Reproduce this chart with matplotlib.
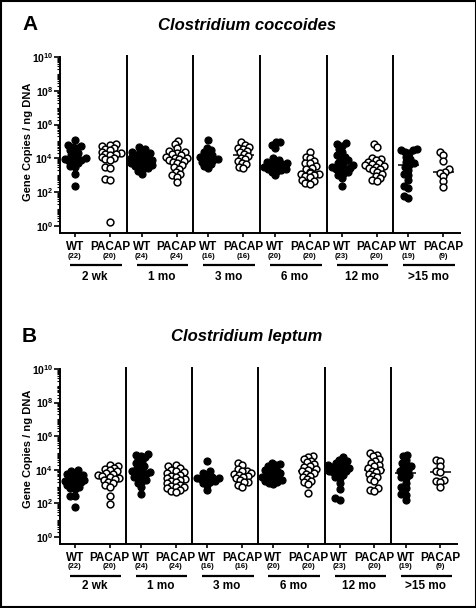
import numpy as np
import matplotlib.pyplot as plt
from matplotlib.ticker import FixedLocator, NullFormatter
from matplotlib.transforms import blended_transform_factory
from matplotlib.patches import Rectangle

plt.rcParams['font.family'] = ['Liberation Sans', 'DejaVu Sans']
plt.rcParams['font.weight'] = 'bold'
plt.rcParams['mathtext.fontset'] = 'custom'
plt.rcParams['mathtext.rm'] = 'Liberation Sans:bold'
plt.rcParams['mathtext.bf'] = 'Liberation Sans:bold'

# categories
ages = ['2 wk', '1 mo', '3 mo', '6 mo', '12 mo', '>15 mo']
genotypes = ['WT', 'PACAP']
n_counts = [22, 20, 24, 24, 16, 16, 20, 20, 23, 20, 19, 9]

# log10(gene copies / ng DNA) - Clostridium coccoides
cocc_wt_2wk = [5.1, 4.8, 4.75, 4.7, 4.6, 4.5, 4.4, 4.3, 4.2, 4.1, 4.05, 4.0, 4.0, 3.95, 3.9,
               3.85, 3.8, 3.7, 3.55, 3.5, 3.1, 2.35]
cocc_pacap_2wk = [4.85, 4.8, 4.75, 4.6, 4.55, 4.5, 4.4, 4.3, 4.25, 4.25, 4.2, 4.1, 4.0, 3.95,
                  3.9, 3.5, 3.45, 2.8, 2.75, 0.25]
cocc_wt_1mo = [4.7, 4.55, 4.45, 4.35, 4.3, 4.25, 4.2, 4.1, 4.05, 4.0, 3.95, 3.9, 3.85, 3.8,
               3.75, 3.7, 3.65, 3.6, 3.55, 3.5, 3.45, 3.35, 3.25, 3.1]
cocc_pacap_1mo = [5.05, 4.85, 4.6, 4.45, 4.35, 4.3, 4.25, 4.2, 4.1, 4.05, 4.0, 3.95, 3.9, 3.85,
                  3.8, 3.7, 3.6, 3.5, 3.4, 3.2, 3.1, 3.0, 2.9, 2.6]
cocc_wt_3mo = [5.1, 4.6, 4.5, 4.4, 4.3, 4.2, 4.1, 4.05, 4.0, 3.95, 3.9, 3.8, 3.75, 3.65, 3.55, 3.45]
cocc_pacap_3mo = [4.95, 4.8, 4.7, 4.6, 4.55, 4.45, 4.35, 4.25, 4.15, 4.05, 3.95, 3.85, 3.75,
                  3.65, 3.5, 3.45]
cocc_wt_6mo = [4.95, 4.95, 4.8, 4.6, 4.0, 3.9, 3.8, 3.75, 3.7, 3.65, 3.6, 3.55, 3.5, 3.45, 3.4,
               3.35, 3.3, 3.25, 3.2, 3.0]
cocc_pacap_6mo = [4.4, 4.1, 4.0, 3.85, 3.75, 3.7, 3.55, 3.45, 3.35, 3.2, 3.15, 3.1, 3.05, 3.0,
                  2.95, 2.9, 2.75, 2.65, 2.55, 2.5]
cocc_wt_12mo = [4.9, 4.85, 4.75, 4.55, 4.35, 4.2, 4.1, 4.0, 3.9, 3.8, 3.7, 3.6, 3.55, 3.5, 3.45,
                3.4, 3.35, 3.3, 3.2, 3.1, 3.0, 2.85, 2.35]
cocc_pacap_12mo = [4.85, 4.65, 4.0, 3.95, 3.9, 3.8, 3.7, 3.65, 3.6, 3.55, 3.5, 3.45, 3.4, 3.3,
                   3.2, 3.1, 2.95, 2.85, 2.75, 2.65]
cocc_wt_15mo = [4.55, 4.5, 4.5, 4.4, 4.3, 4.1, 3.95, 3.8, 3.7, 3.6, 3.5, 3.3, 3.1, 3.0, 2.7,
                2.35, 2.25, 1.75, 1.65]
cocc_pacap_15mo = [4.4, 4.2, 3.85, 3.35, 3.2, 3.15, 2.95, 2.65, 2.3]

# Clostridium leptum
lept_wt_2wk = [4.0, 3.9, 3.8, 3.75, 3.7, 3.6, 3.55, 3.5, 3.45, 3.4, 3.4, 3.35, 3.3, 3.25, 3.2,
               3.1, 3.0, 2.9, 2.85, 2.45, 2.45, 1.8]
lept_pacap_2wk = [4.3, 4.2, 4.1, 4.05, 4.0, 3.9, 3.8, 3.75, 3.7, 3.65, 3.6, 3.5, 3.45, 3.4, 3.3,
                  3.2, 3.1, 3.0, 2.45, 1.95]
lept_wt_1mo = [4.95, 4.9, 4.85, 4.75, 4.65, 4.55, 4.4, 4.3, 4.2, 4.1, 4.0, 3.95, 3.9, 3.85, 3.8,
               3.75, 3.7, 3.6, 3.5, 3.4, 3.35, 3.2, 3.0, 2.55]
lept_pacap_1mo = [4.3, 4.2, 4.1, 4.0, 3.95, 3.85, 3.8, 3.7, 3.65, 3.6, 3.5, 3.45, 3.4, 3.35, 3.3,
                  3.2, 3.1, 3.05, 3.0, 2.95, 2.9, 2.8, 2.75, 2.7]
lept_wt_3mo = [4.5, 3.9, 3.8, 3.7, 3.65, 3.6, 3.55, 3.5, 3.5, 3.45, 3.4, 3.35, 3.3, 3.2, 3.1, 2.8]
lept_pacap_3mo = [4.4, 4.3, 4.05, 3.95, 3.9, 3.8, 3.75, 3.7, 3.65, 3.6, 3.5, 3.4, 3.3, 3.25,
                  3.1, 3.0]
lept_wt_6mo = [4.4, 4.35, 4.3, 4.2, 4.1, 4.0, 3.95, 3.9, 3.8, 3.75, 3.7, 3.6, 3.55, 3.5, 3.45,
               3.4, 3.35, 3.3, 3.2, 3.15]
lept_pacap_6mo = [4.8, 4.75, 4.65, 4.55, 4.45, 4.35, 4.25, 4.15, 4.05, 4.0, 3.9, 3.8, 3.75, 3.65,
                  3.55, 3.45, 3.35, 3.25, 3.15, 2.6]
lept_wt_12mo = [4.75, 4.6, 4.5, 4.45, 4.4, 4.3, 4.25, 4.2, 4.15, 4.1, 4.05, 4.0, 3.95, 3.9, 3.85,
                3.8, 3.7, 3.6, 3.5, 3.2, 2.85, 2.3, 2.2]
lept_pacap_12mo = [5.0, 4.9, 4.8, 4.65, 4.55, 4.4, 4.3, 4.2, 4.1, 4.0, 3.95, 3.85, 3.75, 3.65,
                   3.55, 3.45, 3.35, 2.9, 2.8, 2.75]
lept_wt_15mo = [4.9, 4.8, 4.6, 4.4, 4.3, 4.2, 4.1, 4.0, 3.9, 3.8, 3.7, 3.6, 3.5, 3.2, 3.0, 2.9,
                2.55, 2.5, 2.2]
lept_pacap_15mo = [4.6, 4.55, 4.2, 3.9, 3.85, 3.4, 3.35, 3.25, 2.95]

coccoides = [cocc_wt_2wk, cocc_pacap_2wk, cocc_wt_1mo, cocc_pacap_1mo, cocc_wt_3mo, cocc_pacap_3mo,
             cocc_wt_6mo, cocc_pacap_6mo, cocc_wt_12mo, cocc_pacap_12mo, cocc_wt_15mo, cocc_pacap_15mo]
leptum = [lept_wt_2wk, lept_pacap_2wk, lept_wt_1mo, lept_pacap_1mo, lept_wt_3mo, lept_pacap_3mo,
          lept_wt_6mo, lept_pacap_6mo, lept_wt_12mo, lept_pacap_12mo, lept_wt_15mo, lept_pacap_15mo]

W, H = 477, 608
fig = plt.figure(figsize=(W / 100, H / 100), dpi=100)


def swarm(vals, ppd, d, cap):
    # simple beeswarm in pixel space, returns x offsets in pixels
    order = np.argsort(vals)
    placed = []
    xs = np.zeros(len(vals))
    for i in order:
        y = vals[i] * ppd
        cands = [0.0]
        for px, py in placed:
            dy = abs(py - y)
            if dy < d:
                dx = np.sqrt(d * d - dy * dy)
                cands += [px - dx, px + dx]
        cands = [c for c in cands if abs(c) <= cap] or [0.0]
        cands.sort(key=abs)
        best = cands[0]
        for c in cands:
            if all((c - px) ** 2 + (y - py) ** 2 >= d * d - 1e-6 for px, py in placed):
                best = c
                break
        xs[i] = best
        placed.append((best, y))
    return xs


def panel(groups, left, right, top, bottom, ylo, yhi, letter, title, ylab_y, rows):
    ax = fig.add_axes([left / W, 1 - bottom / H, (right - left) / W, (bottom - top) / H])
    ax.set_yscale('log')
    ax.set_ylim(10 ** ylo, 10 ** yhi)
    ax.set_xlim(0, 12)
    ppd = (bottom - top) / (yhi - ylo)
    ppx = (right - left) / 12.0

    for s in ['top', 'right']:
        ax.spines[s].set_visible(False)
    for s in ['left', 'bottom']:
        ax.spines[s].set_linewidth(1.4)
    ax.spines['left'].set_bounds(10 ** ylo, 1e10)

    # y ticks
    ax.yaxis.set_major_locator(FixedLocator([10.0 ** k for k in range(0, 11, 2)]))
    ax.set_yticklabels([r'$10^{%d}$' % k for k in range(0, 11, 2)], fontsize=7.5)
    minor = [m * 10.0 ** k for k in range(0, 10) for m in range(2, 10)] + [10.0 ** k for k in range(1, 11, 2)]
    ax.yaxis.set_minor_locator(FixedLocator(minor))
    ax.yaxis.set_minor_formatter(NullFormatter())
    ax.tick_params(axis='y', which='major', length=4, width=1.2, pad=1)
    ax.tick_params(axis='y', which='minor', length=2, width=0.8)

    # x positions of the genotype columns
    xpos = []
    for i in range(6):
        xpos += [2 * i + 0.45, 2 * i + 1.5]
    ax.set_xticks(xpos)
    ax.set_xticklabels([])
    ax.tick_params(axis='x', length=3, width=1.2)

    # separators between ages
    for i in range(1, 6):
        ax.axvline(2 * i, ymin=0, ymax=1, color='black', lw=1.4)

    for j, vals in enumerate(groups):
        vals = np.array(vals)
        off = swarm(vals, ppd, 4.6, 12) / ppx
        med = np.median(vals)
        ax.hlines(10 ** med, xpos[j] - 0.32, xpos[j] + 0.32, color='black', lw=1.1, zorder=2)
        if j % 2 == 0:
            ax.scatter(xpos[j] + off, 10 ** vals, s=26, color='black', edgecolors='black',
                       linewidths=0.8, zorder=3)
        else:
            ax.scatter(xpos[j] + off, 10 ** vals, s=24, facecolors='white', edgecolors='black',
                       linewidths=1.1, zorder=3)

    # labels under the axis
    tr = blended_transform_factory(ax.transData, fig.transFigure)
    for j in range(12):
        ax.text(xpos[j], 1 - rows[0] / H, genotypes[j % 2], transform=tr, ha='center',
                va='center', fontsize=8.5, fontweight='bold')
        ax.text(xpos[j], 1 - rows[1] / H, '(%d)' % n_counts[j], transform=tr, ha='center',
                va='center', fontsize=5.5, fontweight='bold')
    for i in range(6):
        ax.plot([2 * i + 0.3, 2 * i + 1.85], [1 - rows[2] / H] * 2, transform=tr, color='black',
                lw=1.6, clip_on=False, solid_capstyle='butt')
        ax.text(2 * i + 1.05, 1 - rows[3] / H, ages[i], transform=tr, ha='center', va='center',
                fontsize=8.5, fontweight='bold')

    fig.text(22 / W, 1 - rows[4] / H, letter, ha='left', va='center', fontsize=15, fontweight='bold')
    fig.text(247 / W, 1 - rows[4] / H, title, ha='center', va='center', fontsize=12,
             fontweight='bold', style='italic')
    fig.text(28 / W, 1 - ylab_y / H, 'Gene Copies / ng DNA', rotation=90, ha='center',
             va='center', fontsize=8, fontweight='bold')
    return ax


panel(coccoides, 60, 460, 55.3, 233, -0.414, 10.1, 'A', 'Clostridium coccoides', 142,
      [247, 257, 265, 277, 25])
panel(leptum, 60, 457, 367.3, 544, -0.417, 10.1, 'B', 'Clostridium leptum', 449,
      [558, 567, 576, 586, 337])

# frame around the whole figure
fig.patches.append(Rectangle((0.002, 0.002), 0.996, 0.996, transform=fig.transFigure, fill=False,
                             ec='black', lw=1.5))

fig.savefig('out.png', dpi=100)
